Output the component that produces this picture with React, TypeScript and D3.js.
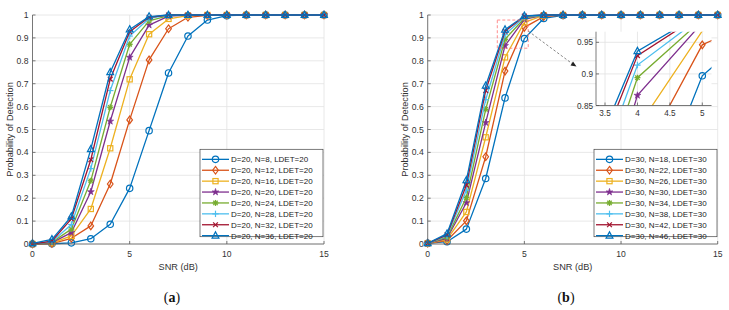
import React from "react";
import * as d3 from "d3";

// SNR grid (dB)
const snr = [0, 1, 2, 3, 4, 5, 6, 7, 8, 9, 10, 11, 12, 13, 14, 15];

// (a) D=20, LDET=20
const a8 = [0, 0.001, 0.005, 0.023, 0.086, 0.243, 0.495, 0.747, 0.908, 0.978, 0.997, 1, 1, 1, 1, 1];
const a12 = [0, 0.002, 0.025, 0.079, 0.262, 0.542, 0.804, 0.94, 0.99, 0.998, 1, 1, 1, 1, 1, 1];
const a16 = [0, 0.004, 0.035, 0.153, 0.418, 0.719, 0.916, 0.983, 0.997, 1, 1, 1, 1, 1, 1, 1];
const a20 = [0, 0.006, 0.05, 0.228, 0.536, 0.815, 0.956, 0.995, 1, 1, 1, 1, 1, 1, 1, 1];
const a24 = [0, 0.008, 0.065, 0.276, 0.597, 0.872, 0.974, 0.997, 1, 1, 1, 1, 1, 1, 1, 1];
const a28 = [0, 0.01, 0.085, 0.329, 0.67, 0.908, 0.985, 0.999, 1, 1, 1, 1, 1, 1, 1, 1];
const a32 = [0, 0.013, 0.11, 0.368, 0.72, 0.927, 0.99, 1, 1, 1, 1, 1, 1, 1, 1, 1];
const a36 = [0.003, 0.02, 0.12, 0.414, 0.75, 0.937, 0.993, 1, 1, 1, 1, 1, 1, 1, 1, 1];

// (b) D=30, LDET=30
const b18 = [0.003, 0.01, 0.065, 0.286, 0.638, 0.897, 0.985, 0.998, 1, 1, 1, 1, 1, 1, 1, 1];
const b22 = [0.003, 0.015, 0.101, 0.381, 0.755, 0.946, 0.993, 1, 1, 1, 1, 1, 1, 1, 1, 1];
const b26 = [0.003, 0.02, 0.14, 0.466, 0.815, 0.968, 0.998, 1, 1, 1, 1, 1, 1, 1, 1, 1];
const b30 = [0.003, 0.025, 0.18, 0.53, 0.866, 0.981, 1, 1, 1, 1, 1, 1, 1, 1, 1, 1];
const b34 = [0.003, 0.03, 0.203, 0.588, 0.894, 0.986, 1, 1, 1, 1, 1, 1, 1, 1, 1, 1];
const b38 = [0.003, 0.035, 0.235, 0.63, 0.914, 0.991, 1, 1, 1, 1, 1, 1, 1, 1, 1, 1];
const b42 = [0.003, 0.04, 0.257, 0.67, 0.929, 0.995, 1, 1, 1, 1, 1, 1, 1, 1, 1, 1];
const b46 = [0.003, 0.045, 0.278, 0.691, 0.936, 0.996, 1, 1, 1, 1, 1, 1, 1, 1, 1, 1];

const labelsA = [
  "D=20, N=8, LDET=20", "D=20, N=12, LDET=20", "D=20, N=16, LDET=20", "D=20, N=20, LDET=20",
  "D=20, N=24, LDET=20", "D=20, N=28, LDET=20", "D=20, N=32, LDET=20", "D=20, N=36, LDET=20",
];
const labelsB = [
  "D=30, N=18, LDET=30", "D=30, N=22, LDET=30", "D=30, N=26, LDET=30", "D=30, N=30, LDET=30",
  "D=30, N=34, LDET=30", "D=30, N=38, LDET=30", "D=30, N=42, LDET=30", "D=30, N=46, LDET=30",
];

const colors = ["#0072BD", "#D95319", "#EDB120", "#7E2F8E", "#77AC30", "#4DBEEE", "#A2142F", "#0072BD"];
const markers = ["circle", "diamond", "square", "star", "asterisk", "plus", "cross", "triangle"];

const xTicks = [0, 5, 10, 15];
const yTicks = [0, 0.1, 0.2, 0.3, 0.4, 0.5, 0.6, 0.7, 0.8, 0.9, 1];
const insetXTicks = [3.5, 4, 4.5, 5];
const insetYTicks = [0.85, 0.9, 0.95];
const zoomBox = [3.6, 5.2, 0.855, 0.978]; // x0, x1, y0, y1 in data units

const FONT = "'Liberation Sans', Arial, Helvetica, sans-serif";
const GRID = "#e2e2e2";
const AXIS = "#5a5a5a";
const TEXT = "#333";

function Marker({ type, cx, cy, color }: { type: string; cx: number; cy: number; color: string }) {
  const sw = 1.2;
  if (type === "circle") return <circle cx={cx} cy={cy} r={3.2} fill="none" stroke={color} strokeWidth={sw} />;
  if (type === "diamond")
    return <path d={`M${cx},${cy - 3.8}L${cx + 2.8},${cy}L${cx},${cy + 3.8}L${cx - 2.8},${cy}Z`} fill="none" stroke={color} strokeWidth={sw} />;
  if (type === "square")
    return <rect x={cx - 2.6} y={cy - 2.6} width={5.2} height={5.2} fill="none" stroke={color} strokeWidth={sw} />;
  if (type === "star")
    return <path transform={`translate(${cx},${cy})`} d={d3.symbol(d3.symbolStar, 15)() as string} fill={color} stroke={color} strokeWidth={0.6} />;
  if (type === "asterisk")
    return (
      <g stroke={color} strokeWidth={1.3}>
        <line x1={cx - 3} y1={cy} x2={cx + 3} y2={cy} />
        <line x1={cx} y1={cy - 3} x2={cx} y2={cy + 3} />
        <line x1={cx - 2.2} y1={cy - 2.2} x2={cx + 2.2} y2={cy + 2.2} />
        <line x1={cx - 2.2} y1={cy + 2.2} x2={cx + 2.2} y2={cy - 2.2} />
      </g>
    );
  if (type === "plus")
    return (
      <g stroke={color} strokeWidth={sw}>
        <line x1={cx - 3.2} y1={cy} x2={cx + 3.2} y2={cy} />
        <line x1={cx} y1={cy - 3.2} x2={cx} y2={cy + 3.2} />
      </g>
    );
  if (type === "cross")
    return (
      <g stroke={color} strokeWidth={sw}>
        <line x1={cx - 2.4} y1={cy - 2.4} x2={cx + 2.4} y2={cy + 2.4} />
        <line x1={cx - 2.4} y1={cy + 2.4} x2={cx + 2.4} y2={cy - 2.4} />
      </g>
    );
  return <path d={`M${cx},${cy - 3.8}L${cx + 3.4},${cy + 2.4}L${cx - 3.4},${cy + 2.4}Z`} fill="none" stroke={color} strokeWidth={sw} />;
}

function Panel({ series, labels, left, right, legendX, id, withInset }: any) {
  const x = d3.scaleLinear().domain([0, 15]).range([left, right]);
  const y = d3.scaleLinear().domain([0, 1]).range([244, 15]);
  const line = d3.line<number>().x((_, i) => x(snr[i])).y((d) => y(d));

  const legendY = 149.3;
  const rowH = 10.9;

  // inset
  const ix = d3.scaleLinear().domain([3.361, 5.142]).range([596, 711.5]);
  const iy = d3.scaleLinear().domain([0.85, 0.9668]).range([105.5, 31.7]);
  const iline = d3.line<number>().x((_, i) => ix(snr[i])).y((d) => iy(d));

  return (
    <g fontFamily={FONT}>
      {/* grid */}
      {xTicks.map((t) => (
        <line key={"gx" + t} x1={x(t)} x2={x(t)} y1={y(0)} y2={y(1)} stroke={GRID} strokeWidth={0.8} />
      ))}
      {yTicks.map((t) => (
        <line key={"gy" + t} x1={x(0)} x2={x(15)} y1={y(t)} y2={y(t)} stroke={GRID} strokeWidth={0.8} />
      ))}

      {/* series */}
      {series.map((s: number[], k: number) => (
        <g key={"s" + k}>
          <path d={line(s) as string} fill="none" stroke={colors[k]} strokeWidth={1.3} strokeLinejoin="round" />
          {s.map((v, i) => (
            <Marker key={i} type={markers[k]} cx={x(snr[i])} cy={y(v)} color={colors[k]} />
          ))}
        </g>
      ))}

      {/* axes */}
      <line x1={x(0)} x2={x(15)} y1={y(0)} y2={y(0)} stroke={AXIS} strokeWidth={0.8} />
      <line x1={x(0)} x2={x(0)} y1={y(0)} y2={y(1)} stroke={AXIS} strokeWidth={0.8} />
      {xTicks.map((t) => (
        <g key={"tx" + t}>
          <line x1={x(t)} x2={x(t)} y1={y(0)} y2={y(0) - 3} stroke={AXIS} strokeWidth={0.8} />
          <text x={x(t)} y={256.5} textAnchor="middle" fontSize={8.6} fill={TEXT}>{t}</text>
        </g>
      ))}
      {yTicks.map((t) => (
        <g key={"ty" + t}>
          <line x1={x(0)} x2={x(0) + 3} y1={y(t)} y2={y(t)} stroke={AXIS} strokeWidth={0.8} />
          <text x={x(0) - 4} y={y(t) + 3} textAnchor="end" fontSize={8.6} fill={TEXT}>{t}</text>
        </g>
      ))}
      <text x={(x(0) + x(15)) / 2} y={270} textAnchor="middle" fontSize={9.2} fill={TEXT}>SNR (dB)</text>
      <text transform={`translate(${x(0) - 20},${(y(0) + y(1)) / 2}) rotate(-90)`} textAnchor="middle" fontSize={9.2} fill={TEXT}>
        Probability of Detection
      </text>

      {withInset && (
        <g>
          <rect x={x(zoomBox[0])} y={y(zoomBox[3])} width={x(zoomBox[1]) - x(zoomBox[0])} height={y(zoomBox[2]) - y(zoomBox[3])}
            fill="none" stroke="#ff7070" strokeWidth={0.8} strokeDasharray="3,2" />
          <line x1={x(zoomBox[1])} y1={y(0.93)} x2={574} y2={65} stroke="#555" strokeWidth={0.7} strokeDasharray="2.5,2" />
          <path d="M576.5,66.5 L570.5,65.5 L573,61.5 Z" fill="#222" />
          <defs>
            <clipPath id={id + "clip"}>
              <rect x={596} y={31.7} width={115.5} height={73.8} />
            </clipPath>
          </defs>
          <rect x={596} y={31.7} width={115.5} height={73.8} fill="#fff" />
          {insetXTicks.map((t) => (
            <line key={"igx" + t} x1={ix(t)} x2={ix(t)} y1={iy(0.85)} y2={iy(0.9668)} stroke={GRID} strokeWidth={0.8} />
          ))}
          {insetYTicks.map((t) => (
            <line key={"igy" + t} x1={596} x2={711.5} y1={iy(t)} y2={iy(t)} stroke={GRID} strokeWidth={0.8} />
          ))}
          <g clipPath={`url(#${id}clip)`}>
            {series.map((s: number[], k: number) => (
              <g key={"is" + k}>
                <path d={iline(s) as string} fill="none" stroke={colors[k]} strokeWidth={1.3} />
                {s.map((v, i) =>
                  v >= 0.85 && v <= 0.9668 && snr[i] >= 3.4 && snr[i] <= 5.1 ? (
                    <Marker key={i} type={markers[k]} cx={ix(snr[i])} cy={iy(v)} color={colors[k]} />
                  ) : null
                )}
              </g>
            ))}
          </g>
          <line x1={596} x2={711.5} y1={105.5} y2={105.5} stroke={AXIS} strokeWidth={0.8} />
          <line x1={596} x2={596} y1={105.5} y2={31.7} stroke={AXIS} strokeWidth={0.8} />
          {insetXTicks.map((t) => (
            <g key={"itx" + t}>
              <line x1={ix(t)} x2={ix(t)} y1={105.5} y2={102.5} stroke={AXIS} strokeWidth={0.8} />
              <text x={ix(t)} y={116} textAnchor="middle" fontSize={8.2} fill={TEXT}>{t}</text>
            </g>
          ))}
          {insetYTicks.map((t) => (
            <g key={"ity" + t}>
              <line x1={596} x2={599} y1={iy(t)} y2={iy(t)} stroke={AXIS} strokeWidth={0.8} />
              <text x={593} y={iy(t) + 3} textAnchor="end" fontSize={8.2} fill={TEXT}>{t}</text>
            </g>
          ))}
        </g>
      )}

      {/* legend */}
      <rect x={legendX} y={legendY} width={123} height={87.4} fill="#fff" stroke="#444" strokeWidth={0.7} />
      {labels.map((lab: string, k: number) => {
        const cy = legendY + 5 + rowH * (k + 0.5) - 0.4;
        return (
          <g key={"lg" + k}>
            <line x1={legendX + 2} x2={legendX + 29} y1={cy} y2={cy} stroke={colors[k]} strokeWidth={1.3} />
            <Marker type={markers[k]} cx={legendX + 15.5} cy={cy} color={colors[k]} />
            <text x={legendX + 31} y={cy + 2.9} fontSize={8} fill="#222">{lab}</text>
          </g>
        );
      })}
    </g>
  );
}

export default function App() {
  return (
    <svg width={729} height={310} style={{ position: "absolute", left: 0, top: 0, background: "#fff" }}>
      <Panel id="a" series={[a8, a12, a16, a20, a24, a28, a32, a36]} labels={labelsA} left={32.5} right={324} legendX={200} />
      <Panel id="b" series={[b18, b22, b26, b30, b34, b38, b42, b46]} labels={labelsB} left={427.7} right={717.7} legendX={594} withInset />
      <text x={172} y={302} textAnchor="middle" fontFamily="'Liberation Serif', 'Times New Roman', serif" fontSize={14} fill="#111">
        (<tspan fontWeight="bold">a</tspan>)
      </text>
      <text x={566} y={302} textAnchor="middle" fontFamily="'Liberation Serif', 'Times New Roman', serif" fontSize={14} fill="#111">
        (<tspan fontWeight="bold">b</tspan>)
      </text>
    </svg>
  );
}
